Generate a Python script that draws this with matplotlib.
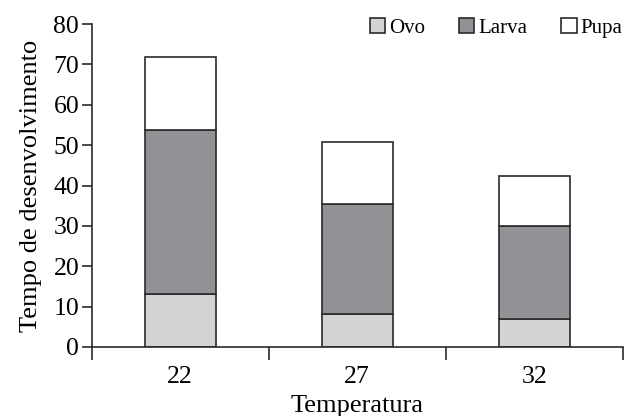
import matplotlib.pyplot as plt
import numpy as np

temps = ['22', '27', '32']
ovo = [13.1, 8.1, 7.0]
larva = [40.7, 27.3, 23.0]
pupa = [18.1, 15.3, 12.4]

plt.rcParams['font.family'] = ['Liberation Serif', 'DejaVu Serif']

fig = plt.figure(figsize=(6.24, 4.16), dpi=100)
ax = fig.add_axes([0.147, 0.166, 0.851, 0.776])

x = np.arange(len(temps))
w = 0.40
ec = '#2a2a2a'
ax.bar(x, ovo, w, color='#d3d3d5', edgecolor=ec, linewidth=1.2, label='Ovo')
ax.bar(x, larva, w, bottom=ovo, color='#929296', edgecolor=ec, linewidth=1.2, label='Larva')
bot2 = np.array(ovo) + np.array(larva)
ax.bar(x, pupa, w, bottom=bot2, color='white', edgecolor=ec, linewidth=1.2, label='Pupa')

ax.set_xlim(-0.5, 2.5)
ax.set_ylim(0, 80)
ax.set_yticks(range(0, 81, 10))
ax.set_xticks(x)
ax.set_xticklabels(temps)
ax.set_xticks([-0.5, 0.5, 1.5, 2.5], minor=True)
ax.tick_params(axis='x', which='major', length=0, pad=14, labelsize=18.5)
ax.tick_params(axis='x', which='minor', length=9, width=1.2, direction='out', color=ec)
ax.tick_params(axis='y', length=7, width=1.2, labelsize=18.5, color=ec, pad=2)

for s in ['top', 'right']:
    ax.spines[s].set_visible(False)
for s in ['left', 'bottom']:
    ax.spines[s].set_linewidth(1.2)
    ax.spines[s].set_color(ec)

ax.set_xlabel('Temperatura', fontsize=19, labelpad=5)
ax.set_ylabel('Tempo de desenvolvimento', fontsize=19, labelpad=8)

ax.legend(ncol=3, loc='upper right', bbox_to_anchor=(1.035, 1.077), frameon=False,
          fontsize=15, handlelength=0.75, handleheight=0.75, handletextpad=0.2,
          columnspacing=1.6)

fig.savefig('out.png', dpi=100)
